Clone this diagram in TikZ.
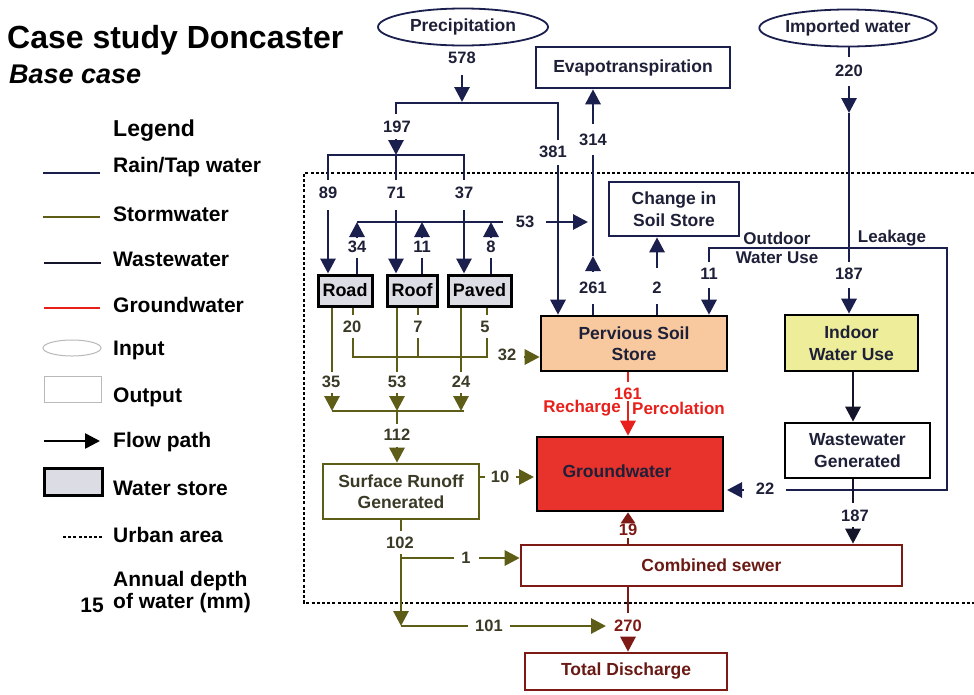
\documentclass[tikz,border=0pt]{standalone}
\usepackage{fontspec}
\setmainfont{Liberation Sans}
\usetikzlibrary{arrows.meta,shapes.geometric}
\definecolor{navy}{HTML}{1B1F4D}
\definecolor{olive}{HTML}{5E5D18}
\definecolor{wastec}{HTML}{14152A}
\definecolor{redc}{HTML}{E8201C}
\definecolor{darkred}{HTML}{7E1A16}
\definecolor{numc}{HTML}{1E2038}
\definecolor{olivetext}{HTML}{3A3A26}
\definecolor{sewtext}{HTML}{6A1A14}
\definecolor{storegray}{HTML}{DCDDE4}
\definecolor{peach}{HTML}{F8C89E}
\definecolor{yel}{HTML}{EEEE9A}
\definecolor{gwred}{HTML}{E8322C}
\tikzset{
  num/.style={font=\fontsize{16.5}{19}\selectfont\bfseries, text=numc, inner sep=0pt},
  lab/.style={font=\fontsize{17}{20}\selectfont\bfseries, text=numc, inner sep=0pt},
  legtext/.style={anchor=west, font=\fontsize{21}{24}\selectfont\bfseries, inner sep=0pt},
  rain/.style={draw=navy, line width=2.9pt},
  storm/.style={draw=olive, line width=2.9pt},
  waste/.style={draw=wastec, line width=2.9pt},
  gwl/.style={draw=redc, line width=2.9pt},
  sewl/.style={draw=darkred, line width=2.9pt},
  tip/.style={-{Triangle[length=15pt,width=15pt]}},
  tipsmall/.style={-{Triangle[length=11pt,width=14pt]}},
  urban/.style={draw=black, line width=2.8pt, dash pattern=on 3pt off 2.2pt},
  inell/.style={ellipse, draw=navy, line width=1.8pt, inner sep=0pt, fill=white,
    font=\fontsize{17.5}{21}\selectfont\bfseries, text=numc},
  outbox/.style={draw=navy, line width=2.6pt, fill=white, align=center, inner sep=0pt,
    font=\fontsize{17.5}{21.5}\selectfont\bfseries, text=numc},
  store/.style={draw=black, line width=3pt, fill=storegray, inner sep=0pt,
    minimum height=31pt, font=\fontsize{18}{21}\selectfont\bfseries}
}
\begin{document}
\begin{tikzpicture}[x=1pt,y=-1pt]
\useasboundingbox (0,0) rectangle (974,694);
\fill[white] (0,0) rectangle (974,694);

% ---------- Title ----------
\node[anchor=west, inner sep=0pt, font=\fontsize{32}{36}\selectfont\bfseries] (title) at (7,40) {Case study Doncaster};
\node[anchor=west, inner sep=0pt, font=\fontsize{27}{31}\selectfont\bfseries\itshape] (subtitle) at (9,74) {Base case};

% ---------- Legend ----------
\node[legtext, font=\fontsize{23}{26}\selectfont\bfseries] (legT) at (113,131) {Legend};
\node[legtext] (lg1) at (113,167) {Rain/Tap water};
\node[legtext] (lg2) at (113,214) {Stormwater};
\node[legtext] (lg3) at (113,259) {Wastewater};
\node[legtext] (lg4) at (113,305) {Groundwater};
\node[legtext] (lg5) at (113,350) {Input};
\node[legtext] (lg6) at (113,397) {Output};
\node[legtext] (lg7) at (113,442) {Flow path};
\node[legtext] (lg8) at (113,488) {Water store};
\node[legtext] (lg9) at (113,535) {Urban area};
\node[legtext] (lg10) at (113,581) {Annual depth};
\node[legtext] (lg11) at (113,603) {of water (mm)};
\node[anchor=east, inner sep=0pt, font=\fontsize{21}{24}\selectfont\bfseries] (lg15) at (104,605) {15};
\draw[navy, line width=2.4pt] (43,173) -- (100,173);
\draw[olive, line width=2.4pt] (43,217) -- (100,217);
\draw[wastec, line width=2.4pt] (44,263) -- (101,263);
\draw[redc, line width=2.4pt] (44,308) -- (100,308);
\draw[gray!55, line width=1pt] (72,348) ellipse [x radius=29pt, y radius=8pt];
\draw[gray!55, line width=1pt] (44,376) rectangle (101,402);
\draw[black, line width=2.6pt, tip] (44,441) -- (100,441);
\draw[black, line width=3pt, fill=storegray] (44,468) rectangle (102,495);
\draw[urban] (63,537) -- (102,537);

% ---------- Urban area ----------
\coordinate (uTR) at (974,173);
\coordinate (uTL) at (304,173);
\coordinate (uBL) at (304,603);
\coordinate (uBR) at (974,603);
\draw[urban] (uTR) -- (uTL) -- (uBL) -- (uBR);

% ---------- Boxes ----------
\node[inell, minimum width=170pt, minimum height=37pt] (prec) at (463,27) {Precipitation};
\node[inell, minimum width=170pt, minimum height=37pt] (imp) at (848,28) {Imported water};
\node[outbox, minimum width=194pt, minimum height=41pt] (evap) at (633,67.5) {Evapotranspiration};
\node[outbox, minimum width=130pt, minimum height=54pt] (chg) at (674,209) {Change in\\Soil Store};
\node[store, minimum width=54pt] (road) at (345,290.5) {Road};
\node[store, minimum width=50pt] (roof) at (412,290.5) {Roof};
\node[store, minimum width=63pt] (paved) at (479.5,290.5) {Paved};
\node[outbox, draw=black, fill=peach, minimum width=186pt, minimum height=55pt] (perv) at (634,343.5) {Pervious Soil\\Store};
\node[outbox, draw=black, fill=yel, minimum width=133pt, minimum height=56pt] (indoor) at (851.5,343) {Indoor\\Water Use};
\node[outbox, draw=black, minimum width=145pt, minimum height=55pt] (wwg) at (857.5,450.5) {Wastewater\\Generated};
\node[outbox, draw=black, fill=gwred, minimum width=186pt, minimum height=74pt] (gw) at (630,474) {};
\node[inner sep=0pt, font=\fontsize{17.5}{21}\selectfont\bfseries, text=numc] (gwtext) at (617,471) {Groundwater};
\node[outbox, draw=olive, text=olivetext, minimum width=156pt, minimum height=55pt] (surf) at (401,491.5) {Surface Runoff\\Generated};
\node[outbox, draw=darkred, text=sewtext, minimum width=381pt, minimum height=41pt] (sewer) at (711.5,565.5) {Combined sewer};
\node[outbox, draw=darkred, text=sewtext, minimum width=202pt, minimum height=37pt] (total) at (626,671.5) {Total Discharge};

% ---------- Precipitation split ----------
\node[num] (n578) at (462,58) {578};
\coordinate (p578a) at (462,75);
\coordinate (jP) at (462,102);
\draw[rain,tip] (p578a) -- (jP);
\coordinate (hL) at (396,103);
\coordinate (hR) at (558,103);
\node[num] (n197) at (397,127) {197};
\node[num] (n381) at (553,152) {381};
\coordinate (c197a) at (396,114);
\coordinate (c381a) at (558,140);
\draw[rain] (c197a) -- (hL) -- (hR) -- (c381a);
\coordinate (c381b) at (558,165);
\draw[rain,tip] (c381b) -- (c381b |- perv.north);
\coordinate (c197b) at (396,139);
\coordinate (j197) at (396,155);
\draw[rain,tip] (c197b) -- (j197);
\coordinate (h2L) at (328,155);
\coordinate (h2R) at (464,155);
\coordinate (c89a) at (328,180);
\coordinate (c71a) at (396,180);
\coordinate (c37a) at (464,180);
\draw[rain] (c89a) -- (h2L) -- (h2R) -- (c37a);
\draw[rain] (j197) -- (c71a);
\node[num] (n89) at (328,193) {89};
\node[num] (n71) at (396,193) {71};
\node[num] (n37) at (464,193) {37};
\coordinate (c89b) at (328,210);
\coordinate (c71b) at (396,210);
\coordinate (c37b) at (464,210);
\draw[rain,tip] (c89b) -- (c89b |- road.north);
\draw[rain,tip] (c71b) -- (c71b |- roof.north);
\draw[rain,tip] (c37b) -- (c37b |- paved.north);

% ---------- Evaporation from surfaces ----------
\coordinate (e34) at (357,222);
\coordinate (e11) at (422,222);
\coordinate (e8) at (491,222);
\coordinate (e53R) at (503,222);
\draw[rain] (e34) -- (e53R);
\node[num] (n53e) at (525,222) {53};
\coordinate (c53a) at (546,222);
\coordinate (c53b) at (588,222);
\draw[rain,tip] (c53a) -- (c53b);
\node[num] (n34) at (357,247) {34};
\node[num] (n11) at (422,247) {11};
\node[num] (n8) at (491,247) {8};
\coordinate (c34a) at (357,258);
\coordinate (c11a) at (422,258);
\coordinate (c8a) at (491,258);
\draw[rain] (c34a |- road.north) -- (c34a);
\draw[rain] (c11a |- roof.north) -- (c11a);
\draw[rain] (c8a |- paved.north) -- (c8a);
\coordinate (c34b) at (357,238);
\coordinate (c11b) at (422,238);
\coordinate (c8b) at (491,238);
\draw[rain,tip] (c34b) -- (e34);
\draw[rain,tip] (c11b) -- (e11);
\draw[rain,tip] (c8b) -- (e8);

% ---------- Evapotranspiration 261 / 314 ----------
\coordinate (c261a) at (593,304);
\draw[rain] (c261a |- perv.north) -- (c261a);
\node[num] (n261) at (593,288) {261};
\coordinate (c261b) at (593,272);
\coordinate (c261c) at (593,256);
\draw[rain,tip] (c261b) -- (c261c);
\coordinate (c314b) at (593,155);
\draw[rain] (c261c) -- (c314b);
\node[num] (n314) at (593,140) {314};
\coordinate (c314a) at (593,124);
\draw[rain,tip] (c314a) -- (c314a |- evap.south);

% ---------- Change in soil store ----------
\coordinate (c2a) at (657,304);
\draw[rain] (c2a |- perv.north) -- (c2a);
\node[num] (n2) at (657,288) {2};
\coordinate (c2b) at (657,268);
\draw[rain,tip] (c2b) -- (c2b |- chg.south);

% ---------- Imported water ----------
\node[num] (n220) at (849,71) {220};
\coordinate (c220a) at (849,57);
\draw[rain] (c220a |- imp.south) -- (c220a);
\coordinate (c220b) at (849,86);
\coordinate (c220c) at (849,113);
\draw[rain,tip] (c220b) -- (c220c);
\coordinate (c187a) at (849,262);
\draw[rain] (c220c) -- (c187a);
\node[num] (n187a) at (849,274) {187};
\coordinate (c187b) at (849,288);
\draw[rain,tip] (c187b) -- (c187b |- indoor.north);

% ---------- Outdoor use and leakage ----------
\coordinate (o11a) at (709,262);
\coordinate (oTL) at (709,248);
\coordinate (oTR) at (947,248);
\coordinate (oBR) at (947,490);
\coordinate (c22a) at (786,490);
\draw[rain] (o11a) -- (oTL) -- (oTR) -- (oBR) -- (c22a);
\node[num] (n11o) at (709,274) {11};
\coordinate (o11b) at (709,288);
\draw[rain,tip] (o11b) -- (o11b |- perv.north);
\node[lab] (outd) at (777,238) {Outdoor};
\node[lab] (wuse) at (777,258) {Water Use};
\node[lab] (leak) at (892,238) {Leakage};
\node[num] (n22) at (765,489) {22};
\coordinate (c22b) at (744,490);
\coordinate (c22c) at (727,490);
\draw[rain,tip] (c22b) -- (c22c);

% ---------- Wastewater ----------
\coordinate (wx) at (853,0);
\draw[waste,tip] (wx |- indoor.south) -- (wx |- wwg.north);
\coordinate (w187a) at (853,503);
\draw[waste] (wx |- wwg.south) -- (w187a);
\node[num] (n187w) at (855,516) {187};
\coordinate (w187b) at (853,527);
\draw[waste,tip] (w187b) -- (wx |- sewer.north);

% ---------- Groundwater recharge ----------
\coordinate (gx) at (628,0);
\coordinate (r161a) at (628,382);
\draw[gwl] (gx |- perv.south) -- (r161a);
\node[num, text=redc] (n161) at (628,394) {161};
\node[lab, text=redc, anchor=east] (rech) at (621,408) {Recharge};
\node[lab, text=redc, anchor=west] (perc) at (632,408) {Percolation};
\coordinate (r161b) at (628,401);
\draw[gwl,tip] (r161b) -- (gx |- gw.north);

% ---------- Sewer exfiltration and discharge ----------
\coordinate (s19a) at (628,538);
\draw[sewl] (gx |- sewer.north) -- (s19a);
\node[num, text=darkred] (n19) at (628,530) {19};
\coordinate (s19b) at (628,522);
\draw[sewl,tipsmall] (s19b) -- (gx |- gw.south);
\coordinate (s270a) at (628,613);
\draw[sewl] (gx |- sewer.south) -- (s270a);
\node[num, text=darkred] (n270) at (628,626) {270};
\coordinate (s270b) at (628,639);
\draw[sewl,tip] (s270b) -- (gx |- total.north);

% ---------- Stormwater runoff ----------
\coordinate (s35a) at (332,372);
\coordinate (s53a) at (397,372);
\coordinate (s24a) at (461,372);
\draw[storm] (s35a |- road.south) -- (s35a);
\draw[storm] (s53a |- roof.south) -- (s53a);
\draw[storm] (s24a |- paved.south) -- (s24a);
\node[num, text=olivetext] (n35) at (331,382) {35};
\node[num, text=olivetext] (n53s) at (397,382) {53};
\node[num, text=olivetext] (n24) at (461,382) {24};
\coordinate (s35b) at (332,393);
\coordinate (s53b) at (397,393);
\coordinate (s24b) at (461,393);
\coordinate (s35c) at (332,411);
\coordinate (s53c) at (397,411);
\coordinate (s24c) at (461,411);
\coordinate (sHR) at (464,411);
\draw[storm] (s35c) -- (sHR);
\draw[storm,tip] (s35b) -- (s35c);
\draw[storm,tip] (s53b) -- (s53c);
\draw[storm,tip] (s24b) -- (s24c);
\coordinate (s112a) at (397,424);
\draw[storm] (s53c) -- (s112a);
\node[num, text=olivetext] (n112) at (397,435) {112};
\coordinate (s112b) at (397,447);
\draw[storm,tip] (s112b) -- (s112b |- surf.north);

% ---------- Infiltration to pervious soil ----------
\coordinate (i20a) at (353,315);
\coordinate (i7a) at (418,315);
\coordinate (i5a) at (487,315);
\draw[storm] (i20a |- road.south) -- (i20a);
\draw[storm] (i7a |- roof.south) -- (i7a);
\draw[storm] (i5a |- paved.south) -- (i5a);
\node[num, text=olivetext] (n20) at (352,327) {20};
\node[num, text=olivetext] (n7) at (418,327) {7};
\node[num, text=olivetext] (n5) at (485,327) {5};
\coordinate (i20b) at (353,338);
\coordinate (i7b) at (418,338);
\coordinate (i5b) at (487,338);
\coordinate (i20c) at (353,357);
\coordinate (i7c) at (418,357);
\coordinate (i5c) at (487,357);
\draw[storm] (i20b) -- (i20c) -- (i5c) -- (i5b);
\draw[storm] (i7b) -- (i7c);
\node[num, text=olivetext] (n32) at (507,355) {32};
\coordinate (i32a) at (524,357);
\draw[storm,tip] (i32a) -- (i32a -| perv.west);

% ---------- Runoff to groundwater, sewer, discharge ----------
\coordinate (r10a) at (485,477);
\draw[storm] (r10a -| surf.east) -- (r10a);
\node[num, text=olivetext] (n10) at (500,477) {10};
\coordinate (r10b) at (516,477);
\coordinate (r10c) at (534,477);
\draw[storm,tip] (r10b) -- (r10c);
\coordinate (q102a) at (401,531);
\draw[storm] (q102a |- surf.south) -- (q102a);
\node[num, text=olivetext] (n102) at (400,543) {102};
\coordinate (q102b) at (401,554);
\coordinate (q1j) at (401,558);
\coordinate (q101c) at (401,626);
\draw[storm,tip] (q102b) -- (q101c);
\coordinate (q1a) at (454,558);
\draw[storm] (q1j) -- (q1a);
\node[num, text=olivetext] (n1) at (466,558) {1};
\coordinate (q1b) at (479,558);
\draw[storm,tip] (q1b) -- (q1b -| sewer.west);
\coordinate (q101a) at (468,626);
\draw[storm] (q101c) -- (q101a);
\node[num, text=olivetext] (n101) at (489,626) {101};
\coordinate (q101b) at (510,626);
\coordinate (q101d) at (606,626);
\draw[storm,tip] (q101b) -- (q101d);
\end{tikzpicture}
\end{document}
